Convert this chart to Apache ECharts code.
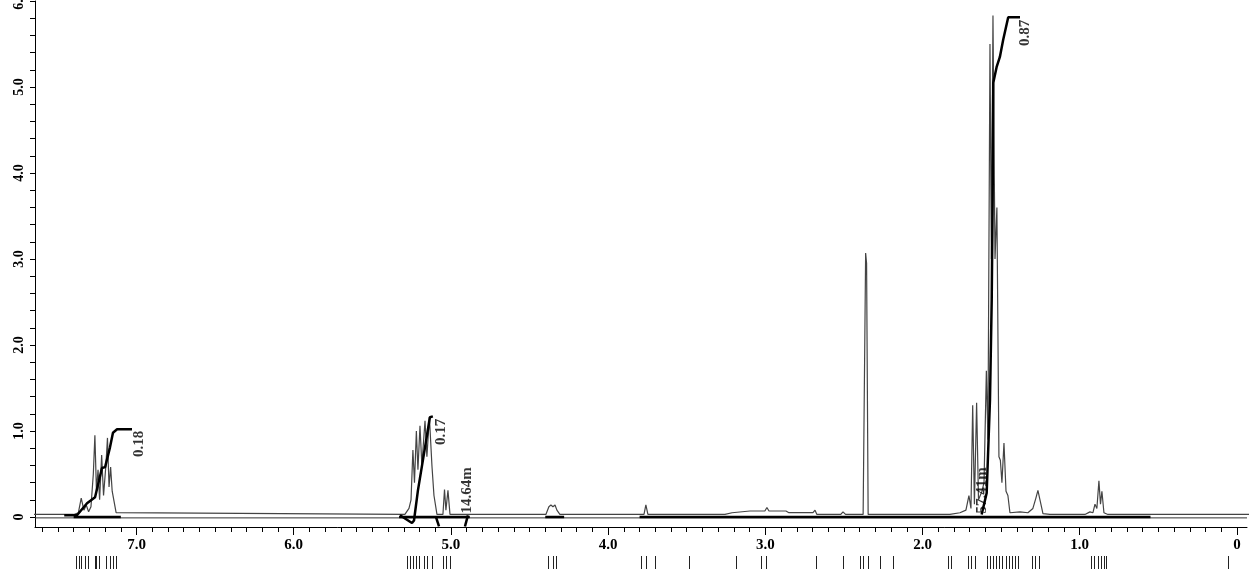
<!DOCTYPE html>
<html><head><meta charset="utf-8">
<script src="https://cdn.jsdelivr.net/npm/echarts@6/dist/echarts.min.js"></script>
<style>html,body{margin:0;padding:0;background:#fff}#c{width:1250px;height:569px}</style>
</head><body><div id="c"></div>
<script>
// ---- spectrum vertices [ppm, intensity] ----
const aromatic = [[7.70,0.03],[7.46,0.03],[7.40,0.03],[7.37,0.05],[7.352,0.22],[7.335,0.08],[7.32,0.14],[7.305,0.06],[7.29,0.12],[7.275,0.5],[7.265,0.95],[7.255,0.3],[7.245,0.55],[7.235,0.2],[7.222,0.72],[7.21,0.25],[7.195,0.6],[7.185,0.92],[7.175,0.35],[7.165,0.58],[7.155,0.3],[7.145,0.32],[7.13,0.05],[7.12,0.03]];
const olefinic = [[5.293,0.03],[5.267,0.1],[5.254,0.2],[5.242,0.78],[5.232,0.4],[5.220,1.0],[5.210,0.55],[5.197,1.06],[5.185,0.6],[5.165,1.12],[5.153,0.7],[5.137,1.16],[5.121,0.6],[5.108,0.25],[5.089,0.03],[5.051,0.03],[5.041,0.32],[5.032,0.08],[5.019,0.31],[5.006,0.03]];
const midField = [[4.396,0.03],[4.377,0.12],[4.364,0.14],[4.351,0.12],[4.338,0.14],[4.326,0.08],[4.307,0.03],[3.772,0.03],[3.760,0.14],[3.747,0.03],[3.257,0.03],[3.212,0.05],[3.098,0.07],[3.003,0.07],[2.990,0.11],[2.977,0.07],[2.869,0.07],[2.850,0.05],[2.729,0.05],[2.697,0.05],[2.684,0.08],[2.672,0.03],[2.52,0.03],[2.506,0.06],[2.49,0.03],[2.378,0.03],[2.362,3.07],[2.356,2.95],[2.346,0.03]];
const aliphatic = [[1.826,0.03],[1.762,0.05],[1.724,0.08],[1.705,0.25],[1.692,0.1],[1.681,1.30],[1.670,0.15],[1.656,1.33],[1.644,0.2],[1.622,0.3],[1.609,0.4],[1.594,1.7],[1.584,0.9],[1.571,5.5],[1.562,3.0],[1.552,5.83],[1.539,3.0],[1.527,3.6],[1.514,0.7],[1.505,0.66],[1.495,0.4],[1.482,0.86],[1.469,0.3],[1.457,0.25],[1.444,0.05],[1.380,0.06],[1.330,0.05],[1.298,0.1],[1.279,0.22],[1.266,0.31],[1.253,0.2],[1.234,0.04],[1.190,0.03]];
const methyl = [[0.967,0.03],[0.935,0.06],[0.916,0.05],[0.903,0.15],[0.891,0.1],[0.878,0.42],[0.868,0.15],[0.859,0.3],[0.846,0.05],[0.821,0.03],[-0.10,0.03]];

// ---- integral curves [ppm, value] ----
const integralA = [[7.46,0.02],[7.379,0.02],[7.315,0.16],[7.264,0.23],[7.22,0.57],[7.20,0.58],[7.169,0.81],[7.15,0.98],[7.124,1.02],[7.029,1.02]];
const integralB = [[5.324,0.02],[5.248,-0.07],[5.235,-0.04],[5.21,0.31],[5.165,0.81],[5.134,1.16],[5.115,1.17]];
const integralC = [[5.095,0.0],[5.076,-0.11]];
const integralD = [[4.911,-0.11],[4.892,0.02]];
const integralE = [[1.624,0.03],[1.592,0.28],[1.571,1.36],[1.560,2.52],[1.554,3.69],[1.550,5.05],[1.529,5.23],[1.508,5.35],[1.487,5.55],[1.455,5.81],[1.380,5.81]];
const integralBaseRanges = [[7.40,7.10],[5.33,4.88],[4.40,4.28],[3.80,0.55]];

// ---- integral labels ----
const integralText = ['0.18','0.17','14.64m','0.87','57.41m'];
const integralTextPpm = [6.985,5.064,4.898,1.345,1.622];
const integralTextVal = [0.85,0.99,0.31,5.63,0.31];

// ---- peak pick positions (marks under the axis) ----
const peakPicks = [7.381,7.364,7.349,7.328,7.307,7.265,7.254,7.237,7.190,7.169,7.148,7.131,
  5.28,5.26,5.24,5.22,5.20,5.17,5.15,5.12,5.049,5.027,5.006,4.381,4.349,4.328,
  3.787,3.755,3.702,3.484,3.183,3.024,2.992,2.674,2.504,2.398,2.377,2.345,2.271,2.186,
  1.836,1.815,1.709,1.688,1.667,1.59,1.57,1.55,1.53,1.51,1.49,1.47,1.45,1.43,1.41,1.39,
  1.305,1.28,1.255,0.924,0.905,0.885,0.862,0.846,0.829,0.057];

// ---- ticks ----
const xLabelValues = [7,6,5,4,3,2,1,0];
const yLabelValues = [0,1,2,3,4,5,6];
const xMinorTicks = []; for (let i = 0; i <= 76; i++) xMinorTicks.push(+(i / 10).toFixed(1));
const yMinorTicks = []; for (let i = 0; i <= 30; i++) yMinorTicks.push(+(i / 5).toFixed(1));

const X_MIN = -0.064, X_MAX = 7.646, Y_MIN = -0.116, Y_MAX = 6;
const FONT = 'Liberation Serif';
const fmt = v => v === 0 ? '0' : v.toFixed(1);

const spectrum = [].concat(aromatic, olefinic, midField, aliphatic, methyl);
const lineSeries = (data, color, width, z) => ({
  type: 'line', data, showSymbol: false, symbol: 'none', silent: true, animation: false,
  lineStyle: { color, width }, z, xAxisIndex: 0, yAxisIndex: 0
});

const series = [];
series.push(lineSeries([[X_MAX, -0.01], [X_MIN, -0.01]], '#333', 1, 1));
integralBaseRanges.forEach(r => series.push(lineSeries([[r[0], 0], [r[1], 0]], '#000', 2.5, 2)));
series.push(lineSeries(spectrum, '#444', 1.2, 3));
[integralA, integralB, integralC, integralD, integralE].forEach(d => series.push(lineSeries(d, '#000', 2.5, 4)));
series.push({
  type: 'scatter', silent: true, animation: false, symbolSize: 0, z: 5,
  data: integralText.map((t, i) => [integralTextPpm[i], integralTextVal[i], t]),
  label: { show: true, position: 'inside', rotate: 90, formatter: p => p.data[2],
    color: '#000', fontFamily: FONT, fontWeight: 'bold', fontSize: 15 }
});

const chart = echarts.init(document.getElementById('c'), null, { renderer: 'canvas' });
chart.setOption({
  animation: false,
  backgroundColor: '#fff',
  grid: { left: 35, right: 3, top: 1, bottom: 42, containLabel: false, outerBoundsMode: 'none' },
  xAxis: [
    { type: 'value', inverse: true, min: X_MIN, max: X_MAX, position: 'bottom',
      axisLine: { show: true, onZero: false, lineStyle: { color: '#000', width: 1 } },
      axisTick: { show: true, length: 5, customValues: xMinorTicks, lineStyle: { color: '#000' } },
      axisLabel: { show: false }, splitLine: { show: false } },
    { type: 'value', inverse: true, min: X_MIN, max: X_MAX, position: 'bottom',
      axisLine: { show: false, onZero: false },
      axisTick: { show: true, length: 8, customValues: xLabelValues, lineStyle: { color: '#000' } },
      axisLabel: { show: true, customValues: xLabelValues, formatter: fmt, margin: 11,
        color: '#000', fontFamily: FONT, fontWeight: 'bold', fontSize: 15 },
      splitLine: { show: false } },
    { type: 'value', inverse: true, min: X_MIN, max: X_MAX, position: 'bottom', offset: 29,
      axisLine: { show: false, onZero: false },
      axisTick: { show: true, length: 14, customValues: peakPicks, lineStyle: { color: '#222' } },
      axisLabel: { show: false }, splitLine: { show: false } }
  ],
  yAxis: [{
    type: 'value', min: Y_MIN, max: Y_MAX, position: 'left',
    axisLine: { show: true, onZero: false, lineStyle: { color: '#000', width: 1 } },
    axisTick: { show: true, length: 5, customValues: yMinorTicks, lineStyle: { color: '#000' } },
    axisLabel: { show: true, customValues: yLabelValues, formatter: fmt, rotate: 90, margin: 9,
      color: '#000', fontFamily: FONT, fontWeight: 'bold', fontSize: 14 },
    splitLine: { show: false }
  }],
  series
});
</script>
</body></html>
